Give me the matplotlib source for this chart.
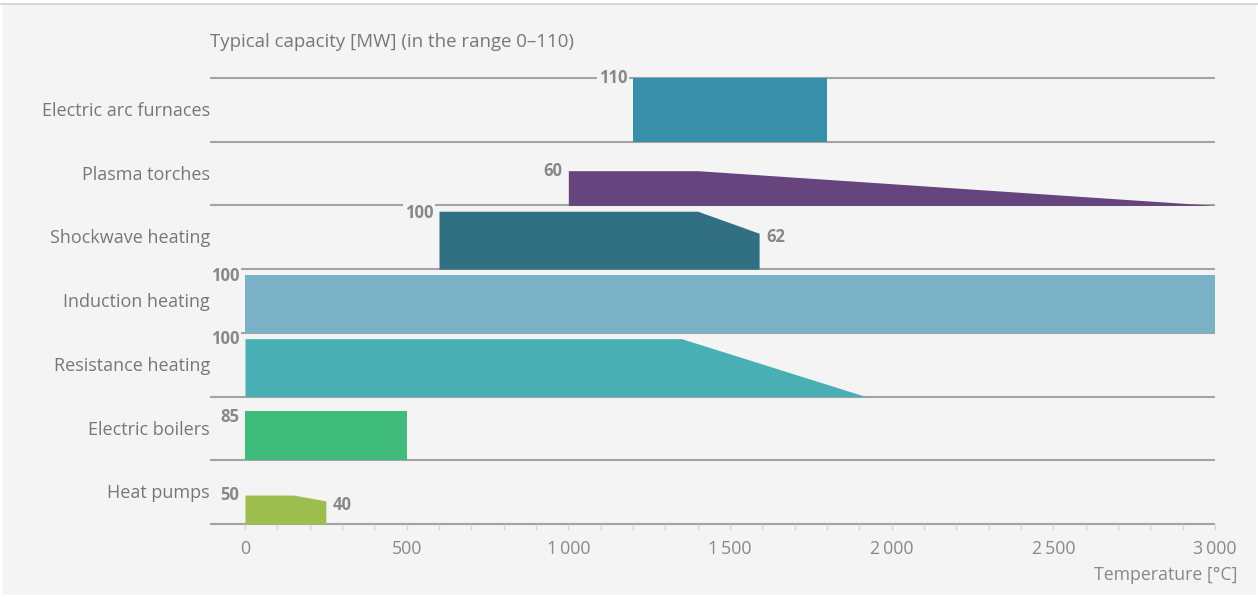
import numpy as np
import matplotlib
matplotlib.use("Agg")
import matplotlib.pyplot as plt
from matplotlib.patches import Rectangle
from matplotlib.ticker import FixedLocator, FuncFormatter

plt.rcParams["font.family"] = ["Open Sans", "DejaVu Sans"]

# capacity profile per technology: temperature breakpoints [°C] and capacity [MW]
categories = ["Electric arc furnaces", "Plasma torches", "Shockwave heating",
              "Induction heating", "Resistance heating", "Electric boilers", "Heat pumps"]
temps = [
    [1200, 1800],
    [1000, 1400, 3000],
    [600, 1400, 1590],
    [0, 3000],
    [0, 1350, 1920],
    [0, 500],
    [0, 150, 250],
]
caps = [
    [110, 110],
    [60, 60, 0],
    [100, 100, 62],
    [100, 100],
    [100, 100, 0],
    [85, 85],
    [50, 50, 40],
]
colors = ["#378fa9", "#66447e", "#317082", "#79b2c6", "#48b0b4", "#3fbb7c", "#9bbe4e"]
xticks = [0, 500, 1000, 1500, 2000, 2500, 3000]

ROW = 110          # height of one row in MW
BG = "#f4f4f4"
LINE = "#a3a3a3"
TXT = "#777777"
VAL = "#888888"
# vertical nudge (points) of the start labels
start_dy = [0, 0, -1, -1, 0, -4.5, 0]

fig = plt.figure(figsize=(12.58, 5.97), dpi=100, facecolor="white")
fig.patches.append(Rectangle((3 / 1258, 0.004), 1253 / 1258, 0.99, transform=fig.transFigure,
                             facecolor=BG, edgecolor="none", zorder=-10))
fig.add_artist(plt.Line2D([0, 1], [1 - 3.5 / 597] * 2, transform=fig.transFigure,
                          color="#d2d2d2", lw=1.2))

ax = fig.add_axes([210 / 1258, 1 - 524 / 597, 1005 / 1258, 446 / 597])
ax.set_facecolor("none")
x0 = -35 / (970 / 3000)
ax.set_xlim(x0, 3000)
ax.set_ylim(0, ROW * len(categories))
for s in ax.spines.values():
    s.set_visible(False)

n = len(categories)
ax.hlines([ROW * n], x0, 3000, color=LINE, lw=1.5, clip_on=False, zorder=1)
for i, (name, t, c, col) in enumerate(zip(categories, temps, caps, colors)):
    base = ROW * (n - 1 - i)
    t = np.array(t, float)
    c = np.array(c, float)
    ax.hlines(base, x0, 3000, color=LINE, lw=1.5, clip_on=False, zorder=1)
    ax.fill_between(t, base, base + c, color=col, lw=0, zorder=2)
    ax.text(x0, base + ROW / 2 - 2, name, ha="right", va="center", fontsize=13, color=TXT)
    # capacity at the start of the range
    ax.annotate(f"{c[0]:g}", (t[0], base + c[0]), xytext=(-4, start_dy[i]), textcoords="offset points",
                ha="right", va="center", fontsize=12, fontweight="bold", color=VAL, zorder=3,
                bbox=dict(boxstyle="square,pad=0.12", facecolor=BG, edgecolor="none"))
    # capacity at the end, where it drops to a non-zero value
    if c[-1] != c[0] and c[-1] > 0:
        ax.annotate(f"{c[-1]:g}", (t[-1], base + c[-1]), xytext=(5, -3), textcoords="offset points",
                    ha="left", va="center", fontsize=12, fontweight="bold", color=VAL, zorder=3)

ax.set_yticks([])
ax.set_xticks(xticks)
ax.xaxis.set_minor_locator(FixedLocator(np.arange(0, 3001, 100)))
ax.xaxis.set_major_formatter(FuncFormatter(lambda v, p: f"{int(v):,}".replace(",", "\u2009")))
ax.tick_params(axis="x", which="both", length=4.5, width=1, color="#d6d6d6", pad=7,
               labelsize=12.8, labelcolor="#888888")

fig.text(210 / 1258, 1 - 42 / 597, "Typical capacity [MW] (in the range 0\u2013110)",
         ha="left", va="center", fontsize=13.4, color=TXT)
fig.text(1237 / 1258, 1 - 575 / 597, "Temperature [°C]", ha="right", va="center",
         fontsize=12.8, color="#888888")

fig.savefig("out.png", dpi=100, facecolor="white")
